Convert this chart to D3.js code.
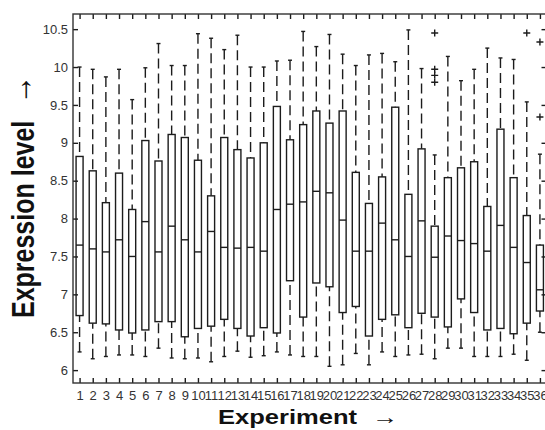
<!DOCTYPE html>
<html>
<head>
<meta charset="utf-8">
<script src="https://cdn.jsdelivr.net/npm/d3@7"></script>
<style>
body { margin: 0; background: #fff; }
</style>
</head>
<body>
<div id="chart"></div>
<script>
const experiments = d3.range(1, 37)
const whiskerLow = [6.24, 6.15, 6.18, 6.20, 6.20, 6.18, 6.29, 6.16, 6.15, 6.16, 6.11, 6.18,
    6.25, 6.17, 6.19, 6.24, 6.20, 6.18, 6.18, 6.05, 6.07, 6.22, 6.07, 6.24,
    6.18, 6.20, 6.21, 6.15, 6.29, 6.29, 6.18, 6.18, 6.18, 6.21, 6.13, 6.50]
const q1 = [6.72, 6.62, 6.61, 6.53, 6.49, 6.53, 6.64, 6.64, 6.44, 6.55, 6.58, 6.67,
    6.55, 6.45, 6.56, 6.49, 7.18, 6.70, 7.15, 7.10, 6.76, 6.84, 6.45, 6.67,
    6.73, 6.56, 6.75, 6.70, 6.57, 6.94, 6.76, 6.53, 6.55, 6.48, 6.62, 6.78]
const median = [7.65, 7.60, 7.56, 7.72, 7.50, 7.96, 7.56, 7.90, 7.72, 7.56, 7.83, 7.62,
    7.61, 7.62, 7.57, 8.12, 8.19, 8.22, 8.36, 8.34, 7.98, 7.57, 7.57, 7.94,
    7.72, 7.50, 7.97, 7.49, 7.77, 7.71, 7.67, 7.57, 7.91, 7.62, 7.42, 7.06]
const q3 = [8.82, 8.63, 8.21, 8.60, 8.12, 9.03, 8.76, 9.11, 9.07, 8.77, 8.30, 9.07,
    8.91, 8.80, 9.00, 9.48, 9.04, 9.24, 9.42, 9.26, 9.42, 8.61, 8.20, 8.55,
    9.47, 8.32, 8.92, 7.90, 8.54, 8.67, 8.75, 8.16, 9.18, 8.54, 8.04, 7.65]
const whiskerHigh = [10.00, 9.97, 9.87, 9.97, 9.57, 9.99, 10.31, 10.02, 10.02, 10.44, 10.38, 10.23,
    10.42, 10.00, 10.00, 10.08, 10.09, 10.47, 10.27, 10.43, 10.17, 10.02, 10.16, 10.18,
    10.07, 10.49, 9.98, 8.84, 10.14, 9.82, 9.97, 10.25, 10.12, 10.10, 9.54, 8.85]
const outlierExp = [28, 28, 28, 28, 35, 36, 36]
const outlierVal = [10.45, 9.97, 9.89, 9.80, 10.45, 10.33, 9.34]
const yTicks = [6, 6.5, 7, 7.5, 8, 8.5, 9, 9.5, 10, 10.5]

// Layout
const width = 545
const height = 430
const plot = { left: 73, right: 546.5, top: 14, bottom: 383 }
const boxHalf = 3.5
const capHalf = 2
const ink = '#1c1c1c'

const svg = d3.select('#chart')
    .append('svg')
    .attr('width', width)
    .attr('height', height)

const x = d3.scaleLinear()
    .domain([0.5, 36.5])
    .range([plot.left, plot.right])

const y = d3.scaleLinear()
    .domain([5.83, 10.70])
    .range([plot.bottom, plot.top])

// Axes (MATLAB style, ticks pointing inward)
const tickFont = "'Liberation Sans', Arial, sans-serif"

const xAxisGroup = svg.append('g')
    .attr('transform', `translate(0, ${plot.bottom})`)
    .call(d3.axisBottom(x).tickValues(experiments).tickFormat(d3.format('d'))
        .tickSizeInner(-5).tickSizeOuter(0).tickPadding(8))
xAxisGroup.select('.domain').remove()
xAxisGroup.selectAll('text')
    .style('font-size', '13px')
    .style('font-family', tickFont)
    .style('fill', '#333')

const xTopGroup = svg.append('g')
    .attr('transform', `translate(0, ${plot.top})`)
    .call(d3.axisTop(x).tickValues(experiments).tickFormat('')
        .tickSizeInner(-5).tickSizeOuter(0))
xTopGroup.select('.domain').remove()

const yAxisGroup = svg.append('g')
    .attr('transform', `translate(${plot.left}, 0)`)
    .call(d3.axisLeft(y).tickValues(yTicks).tickFormat(d3.format('~g'))
        .tickSizeInner(-5).tickSizeOuter(0).tickPadding(5))
yAxisGroup.select('.domain').remove()
yAxisGroup.selectAll('text')
    .style('font-size', '13px')
    .style('font-family', tickFont)
    .style('fill', '#333')

const yRightGroup = svg.append('g')
    .attr('transform', `translate(${plot.right}, 0)`)
    .call(d3.axisLeft(y).tickValues(yTicks).tickFormat('')
        .tickSizeInner(5).tickSizeOuter(0))
yRightGroup.select('.domain').remove()

svg.selectAll('.tick line')
    .style('stroke', ink)
    .style('stroke-width', 1.4)

// Frame
svg.append('rect')
    .attr('x', plot.left)
    .attr('y', plot.top)
    .attr('width', plot.right - plot.left)
    .attr('height', plot.bottom - plot.top)
    .attr('fill', 'none')
    .attr('stroke', '#333')
    .attr('stroke-width', 1.4)

// Boxes
const boxData = experiments.map((e, i) => ({
    e: e, lo: whiskerLow[i], q1: q1[i], med: median[i], q3: q3[i], hi: whiskerHigh[i]
}))

const boxes = svg.append('g')
    .selectAll('g')
    .data(boxData)
    .enter()
    .append('g')
    .attr('stroke', ink)
    .attr('stroke-width', 1.4)
    .attr('fill', 'none')

// upper whisker
boxes.append('line')
    .attr('x1', d => x(d.e)).attr('x2', d => x(d.e))
    .attr('y1', d => y(d.hi)).attr('y2', d => y(d.q3))
    .attr('stroke-dasharray', '10,5')
// lower whisker
boxes.append('line')
    .attr('x1', d => x(d.e)).attr('x2', d => x(d.e))
    .attr('y1', d => y(d.lo)).attr('y2', d => y(d.q1))
    .attr('stroke-dasharray', '10,5')
// caps
boxes.append('line')
    .attr('x1', d => x(d.e) - capHalf).attr('x2', d => x(d.e) + capHalf)
    .attr('y1', d => y(d.hi)).attr('y2', d => y(d.hi))
boxes.append('line')
    .attr('x1', d => x(d.e) - capHalf).attr('x2', d => x(d.e) + capHalf)
    .attr('y1', d => y(d.lo)).attr('y2', d => y(d.lo))
// box
boxes.append('rect')
    .attr('x', d => x(d.e) - boxHalf)
    .attr('width', boxHalf * 2)
    .attr('y', d => y(d.q3))
    .attr('height', d => y(d.q1) - y(d.q3))
// median
boxes.append('line')
    .attr('x1', d => x(d.e) - boxHalf).attr('x2', d => x(d.e) + boxHalf)
    .attr('y1', d => y(d.med)).attr('y2', d => y(d.med))

// Outliers (+)
const outliers = svg.append('g')
    .selectAll('path')
    .data(outlierExp.map((e, i) => ({ e: e, v: outlierVal[i] })))
    .enter()
    .append('path')
    .attr('d', d => `M${x(d.e) - 3.5},${y(d.v)}h7M${x(d.e)},${y(d.v) - 3.5}v7`)
    .attr('stroke', ink)
    .attr('stroke-width', 1.4)

// Axis titles
const titleFont = "'Liberation Sans', Arial, Helvetica, sans-serif"

const xTitle = svg.append('text')
    .attr('transform', 'translate(218, 424) scale(1.31, 1)')
    .style('font-family', titleFont)
    .style('font-size', '19.5px')
    .style('font-weight', 'bold')
    .style('fill', '#111')
xTitle.append('tspan').text('Experiment')
xTitle.append('tspan')
    .attr('x', (372 - 218) / 1.31)
    .attr('y', 0)
    .style('font-size', '20px')
    .text('→')

const yTitle = svg.append('text')
    .attr('transform', 'translate(34, 318) rotate(-90) scale(1, 1.23)')
    .style('font-family', titleFont)
    .style('font-size', '25px')
    .style('font-weight', 'bold')
    .style('fill', '#111')
yTitle.append('tspan').text('Expression level')
yTitle.append('tspan')
    .attr('x', 214)
    .attr('y', -2)
    .style('font-size', '29px')
    .text('→')
</script>
</body>
</html>
